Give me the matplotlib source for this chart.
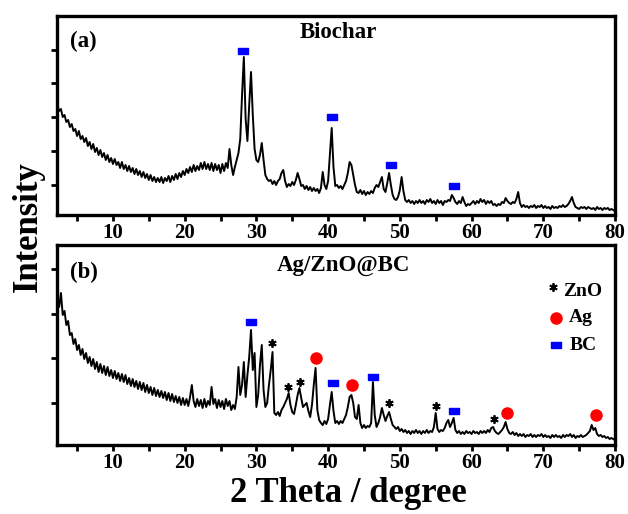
import numpy as np
import matplotlib
matplotlib.use("Agg")
import matplotlib.pyplot as plt
from matplotlib.ticker import MultipleLocator

plt.rcParams['font.family'] = ['Liberation Serif', 'DejaVu Serif']
plt.rcParams['font.weight'] = 'bold'

# 2-theta sampling grid (start, step) -- intensities every 0.25 deg
theta_start = 2.25
theta_step = 0.25

# Panel (a): Biochar, arbitrary intensity units
biochar = [
    110, 104, 106,                                   # 2.25-2.75
    98, 100, 93, 95,   88, 91, 84, 86,               # 3-4
    79, 84, 76, 79,    73, 77, 69, 73,               # 5-6
    66, 71, 63, 67,    60, 65, 58, 62,               # 7-8
    55, 60, 53, 57,    51, 56, 50, 53,               # 9-10
    47, 53, 46, 50,    44, 49, 43, 47,               # 11-12
    41, 46, 40, 44,    38, 43, 37, 41,               # 13-14
    35, 40, 34, 38,    33, 37, 33, 38,               # 15-16
    32, 37, 34, 39,    33, 39, 35, 41,               # 17-18
    36, 42, 38, 44,    40, 46, 42, 48,               # 19-20
    43, 50, 44, 49,    45, 52, 46, 53,               # 21-22
    46, 51, 45, 52,    44, 51, 45, 50,               # 23-24
    42, 51, 44, 52,    47, 66, 50, 40,               # 25-26
    48, 55, 62, 76,    120, 158, 96, 74,             # 27-28
    110, 143, 100, 66, 55, 53, 60, 72,               # 29-30
    55, 40, 36, 34,    35, 31, 34, 30,               # 31-32
    34, 36, 42, 45,    34, 28, 31, 29,               # 33-34
    33, 30, 35, 42,    36, 29, 30, 26,               # 35-36
    29, 25, 28, 24,    27, 24, 26, 22,               # 37-38
    27, 43, 30, 26,    34, 60, 87, 48,               # 39-40
    29, 30, 27, 29,    26, 30, 34, 42,               # 41-42
    53, 50, 40, 30,    23, 22, 25, 21,               # 43-44
    24, 20, 23, 21,    24, 22, 27, 30,               # 45-46
    28, 33, 38, 26,    23, 32, 42, 30,               # 47-48
    20, 16, 15, 18,    25, 38, 24, 15,               # 49-50
    13, 15, 12, 14,    11, 14, 12, 15,               # 51-52
    12, 14, 11, 15,    13, 16, 12, 14,               # 53-54
    11, 15, 12, 14,    10, 14, 13, 15,               # 55-56
    14, 20, 17, 13,    11, 14, 12, 18,               # 57-58
    13, 9, 11, 10,     12, 14, 11, 14,               # 59-60
    12, 16, 13, 15,    11, 14, 12, 14,               # 61-62
    10, 11, 9, 11,     10, 13, 12, 17,               # 63-64
    14, 12, 11, 13,    12, 16, 23, 12,               # 65-66
    8, 10, 8, 9,       7, 9, 8, 10,                  # 67-68
    7, 9, 8, 10,       7, 9, 7, 8,                   # 69-70
    6, 9, 7, 8,        7, 9, 8, 10,                  # 71-72
    8, 9, 11, 14,      18, 12, 8, 7,                 # 73-74
    6, 8, 7, 8,        6, 8, 7, 6,                   # 75-76
    7, 5, 8, 6,        7, 5, 7, 6,                   # 77-78
    7, 5, 6, 5,                                      # 79
    4,                                               # 80
]

# Panel (b): Ag/ZnO@BC
agzno = [
    145, 138, 152,                                   # 2.25-2.75
    130, 134, 120, 124,  110, 112, 101, 106,         # 3-4
    95, 100, 90, 96,     86, 92, 82, 88,             # 5-6
    79, 86, 76, 83,      73, 81, 72, 79,             # 7-8
    70, 78, 69, 75,      67, 74, 66, 72,             # 9-10
    64, 71, 63, 70,      61, 67, 59, 66,             # 11-12
    58, 64, 56, 63,      55, 62, 53, 60,             # 13-14
    52, 58, 50, 57,      49, 55, 48, 54,             # 15-16
    47, 53, 45, 52,      44, 51, 43, 49,             # 17-18
    42, 48, 40, 47,      40, 46, 39, 48,             # 19-20
    60, 44, 38, 46,      39, 45, 37, 46,             # 21-22
    38, 44, 40, 58,      41, 46, 37, 45,             # 23-24
    38, 44, 36, 46,      39, 44, 35, 40,             # 25-26
    36, 48, 78, 50,      60, 83, 48, 70,             # 27-28
    88, 115, 75, 92,     38, 50, 80, 100,            # 29-30
    55, 38, 42, 60,      75, 93, 32, 30,             # 31-32
    33, 29, 35, 38,      42, 46, 52, 40,             # 33-34
    33, 31, 40, 50,      57, 47, 38, 40,             # 35-36
    42, 34, 28, 40,      60, 77, 35, 25,             # 37-38
    22, 20, 24, 21,      26, 40, 53, 34,             # 39-40
    22, 24, 21, 24,      22, 26, 30, 38,             # 41-42
    48, 50, 42, 28,      26, 40, 22, 17,             # 43-44
    20, 17, 19, 18,      22, 63, 30, 18,             # 45-46
    22, 28, 37, 30,      24, 29, 33, 26,             # 47-48
    20, 18, 16, 18,      14, 16, 13, 15,             # 49-50
    12, 14, 11, 14,      12, 15, 12, 14,             # 51-52
    11, 14, 12, 15,      12, 14, 13, 18,             # 53-54
    32, 16, 13, 15,      14, 17, 22, 25,             # 55-56
    18, 22, 27, 15,      12, 14, 11, 13,             # 57-58
    11, 14, 12, 13,      11, 14, 12, 13,             # 59-60
    11, 14, 12, 14,      12, 15, 13, 17,             # 61-62
    18, 14, 12, 11,      13, 15, 18, 23,             # 63-64
    16, 12, 11, 13,      10, 12, 9, 11,              # 65-66
    9, 11, 8, 10,        9, 11, 8, 10,               # 67-68
    8, 10, 9, 11,        8, 10, 8, 9,                # 69-70
    7, 10, 8, 10,        8, 9, 7, 10,                # 71-72
    8, 10, 9, 11,        8, 10, 7, 9,                # 73-74
    8, 10, 8, 9,         10, 12, 14, 20,             # 75-76
    15, 17, 11, 9,       10, 8, 9, 7,                # 77-78
    8, 6, 7, 6,                                      # 79
    5,                                               # 80
]

# Phase markers (2theta, marker height)
bc_a_x = [28.2, 40.6, 48.8, 57.6]
bc_a_y = [164, 98, 50, 29]
bc_b_x = [29.3, 40.7, 46.3, 57.5]
bc_b_y = [123, 62, 68, 34]
ag_x = [38.3, 43.3, 64.9, 77.3]
ag_y = [87, 60, 32, 30]
zno_x = [32.2, 34.4, 36.1, 48.5, 55.0, 63.1]
zno_y = [102, 58, 63, 42, 39, 26]

xticks = [10, 20, 30, 40, 50, 60, 70, 80]
yticks_a = [30, 64, 98, 132, 165]
yticks_b = [42, 87, 131, 176]

rect = [(-1.5, -1), (1.5, -1), (1.5, 1), (-1.5, 1), (-1.5, -1)]
BLUE = '#0000ff'
RED = '#ff0000'

fig = plt.figure(figsize=(6.28, 5.14), dpi=100)
W, H = 628, 514
axA = fig.add_axes([57 / W, (H - 215) / H, 558 / W, 199 / H])
axB = fig.add_axes([57 / W, (H - 445) / H, 558 / W, 200 / H])


def style(ax, yticks, ylim):
    ax.set_xlim(2.2, 80)
    ax.set_ylim(*ylim)
    for s in ax.spines.values():
        s.set_linewidth(2.4)
    ax.set_xticks(xticks)
    ax.xaxis.set_minor_locator(MultipleLocator(5))
    ax.set_yticks(yticks)
    ax.set_yticklabels([])
    ax.tick_params(axis='both', which='both', direction='out', length=4.5,
                   width=2.0, top=False, right=False)
    ax.tick_params(axis='x', labelsize=15, pad=1.5)
    for lb in ax.get_xticklabels():
        lb.set_fontweight('bold')


ya = np.array(biochar, dtype=float)
xa = theta_start + theta_step * np.arange(len(ya))
yb = np.array(agzno, dtype=float)
xb = theta_start + theta_step * np.arange(len(yb))

axA.plot(xa, ya, color='black', lw=1.4)
axB.plot(xb, yb, color='black', lw=1.4)
style(axA, yticks_a, (0, 199))
style(axB, yticks_b, (0, 200))

axA.plot(bc_a_x, bc_a_y, ls='none', marker=rect, ms=7, color=BLUE, mec=BLUE)
axB.plot(bc_b_x, bc_b_y, ls='none', marker=rect, ms=7, color=BLUE, mec=BLUE)
axB.plot(ag_x, ag_y, ls='none', marker='o', ms=8, color=RED, mec=RED)
axB.plot(zno_x, zno_y, ls='none', marker=(6, 2, 0), ms=6, color='black', mew=1.3)

# panel labels
axA.text(0.023, 0.874, '(a)', transform=axA.transAxes, ha='left', va='center',
         fontsize=16.5, fontweight='bold')
axA.text(0.505, 0.915, 'Biochar', transform=axA.transAxes, ha='center', va='center',
         fontsize=16.5, fontweight='bold')
axB.text(0.023, 0.865, '(b)', transform=axB.transAxes, ha='left', va='center',
         fontsize=16.5, fontweight='bold')
axB.text(0.513, 0.90, 'Ag/ZnO@BC', transform=axB.transAxes, ha='center', va='center',
         fontsize=16.5, fontweight='bold')

# manual legend
axB.plot([0.889], [0.79], transform=axB.transAxes, ls='none', marker=(6, 2, 0),
         ms=6, color='black', mew=1.3)
axB.text(0.907, 0.765, 'ZnO', transform=axB.transAxes, ha='left', va='center',
         fontsize=14, fontweight='bold')
axB.plot([0.894], [0.635], transform=axB.transAxes, ls='none', marker='o', ms=8,
         color=RED, mec=RED)
axB.text(0.918, 0.635, 'Ag', transform=axB.transAxes, ha='left', va='center',
         fontsize=14, fontweight='bold')
axB.plot([0.894], [0.50], transform=axB.transAxes, ls='none', marker=rect, ms=7,
         color=BLUE, mec=BLUE)
axB.text(0.918, 0.50, 'BC', transform=axB.transAxes, ha='left', va='center',
         fontsize=14, fontweight='bold')

fig.text(28 / W, 1 - 227 / H, 'Intensity', rotation=90, ha='center', va='center',
         fontsize=25, fontweight='bold')
fig.text(348 / W, 1 - 493 / H, '2 Theta / degree', ha='center', va='center',
         fontsize=25, fontweight='bold')

fig.savefig('out.png', dpi=100)
